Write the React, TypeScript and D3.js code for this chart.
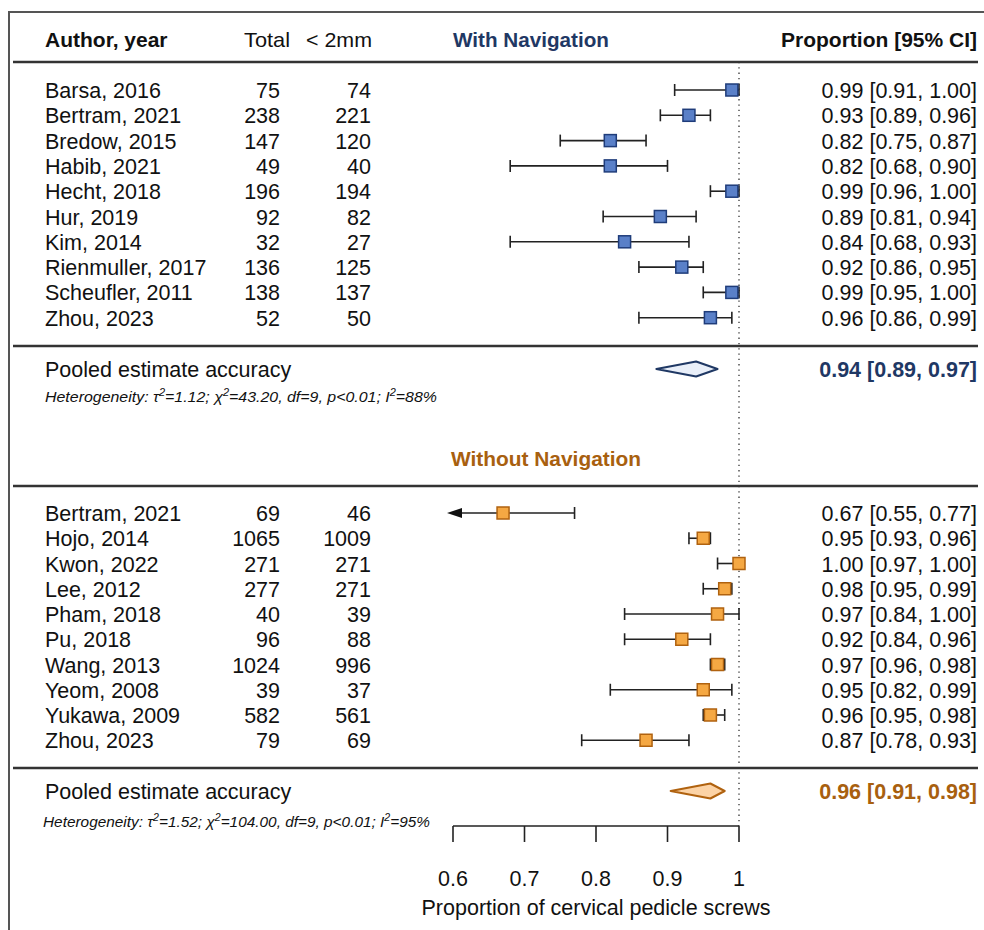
import { useEffect, useRef } from "react";
import * as d3 from "d3";

const navAuthors = ["Barsa, 2016", "Bertram, 2021", "Bredow, 2015", "Habib, 2021", "Hecht, 2018", "Hur, 2019", "Kim, 2014", "Rienmuller, 2017", "Scheufler, 2011", "Zhou, 2023"];
const navTotal = [75, 238, 147, 49, 196, 92, 32, 136, 138, 52];
const navHit = [74, 221, 120, 40, 194, 82, 27, 125, 137, 50];
const navProp = [0.99, 0.93, 0.82, 0.82, 0.99, 0.89, 0.84, 0.92, 0.99, 0.96];
const navLo = [0.91, 0.89, 0.75, 0.68, 0.96, 0.81, 0.68, 0.86, 0.95, 0.86];
const navHi = [1.0, 0.96, 0.87, 0.9, 1.0, 0.94, 0.93, 0.95, 1.0, 0.99];
const navPooled = [0.94, 0.89, 0.97];

const woAuthors = ["Bertram, 2021", "Hojo, 2014", "Kwon, 2022", "Lee, 2012", "Pham, 2018", "Pu, 2018", "Wang, 2013", "Yeom, 2008", "Yukawa, 2009", "Zhou, 2023"];
const woTotal = [69, 1065, 271, 277, 40, 96, 1024, 39, 582, 79];
const woHit = [46, 1009, 271, 271, 39, 88, 996, 37, 561, 69];
const woProp = [0.67, 0.95, 1.0, 0.98, 0.97, 0.92, 0.97, 0.95, 0.96, 0.87];
const woLo = [0.55, 0.93, 0.97, 0.95, 0.84, 0.84, 0.96, 0.82, 0.95, 0.78];
const woHi = [0.77, 0.96, 1.0, 0.99, 1.0, 0.96, 0.98, 0.99, 0.98, 0.93];
const woPooled = [0.96, 0.91, 0.98];

const axisTicks = [0.6, 0.7, 0.8, 0.9, 1];

const FONT = "'Liberation Sans', Arial, Helvetica, sans-serif";
const NAVY = "#1f3864";
const BROWN = "#a8600f";
const FS = 21.5;

export default function App() {
  const ref = useRef<SVGSVGElement | null>(null);

  useEffect(() => {
    document.body.style.margin = "0";
    const svg = d3.select(ref.current);
    svg.selectAll("*").remove();
    svg.attr("font-family", FONT);

    const x = d3.scaleLinear().domain([0.6, 1]).range([453, 739]);
    const fmt = d3.format(".2f");
    const ciText = (p: number, l: number, h: number) => `${fmt(p)} [${fmt(l)}, ${fmt(h)}]`;

    // frame
    svg.append("path").attr("d", "M9,930V12H984").attr("fill", "none").attr("stroke", "#555").attr("stroke-width", 2);

    const txt = (xx: number, yy: number, s: string, opts: any = {}) =>
      svg
        .append("text")
        .attr("x", xx)
        .attr("y", yy)
        .attr("font-size", opts.size ?? FS)
        .attr("font-weight", opts.bold ? "bold" : null)
        .attr("text-anchor", opts.anchor ?? "start")
        .attr("fill", opts.color ?? "#111")
        .text(s);

    // header
    const hy = 47;
    txt(45, hy, "Author, year", { bold: true, size: 21 });
    txt(290, hy, "Total", { anchor: "end", size: 21 }).attr("textLength", 46).attr("lengthAdjust", "spacingAndGlyphs");
    txt(372, hy, "< 2mm", { anchor: "end", size: 21 }).attr("textLength", 66).attr("lengthAdjust", "spacingAndGlyphs");
    txt(453, hy, "With Navigation", { bold: true, color: NAVY, size: 21 }).attr("textLength", 156).attr("lengthAdjust", "spacingAndGlyphs");
    txt(977, hy, "Proportion [95% CI]", { bold: true, anchor: "end", size: 21 });

    const hline = (yy: number) =>
      svg.append("line").attr("x1", 13).attr("x2", 978).attr("y1", yy).attr("y2", yy).attr("stroke", "#333").attr("stroke-width", 2.5);
    hline(62);
    hline(346);
    hline(486);
    hline(768);

    // reference line at 1
    svg
      .append("line")
      .attr("x1", x(1))
      .attr("x2", x(1))
      .attr("y1", 62)
      .attr("y2", 826)
      .attr("stroke", "#333")
      .attr("stroke-width", 1.3)
      .attr("stroke-dasharray", "1.3 4");

    const drawGroup = (
      y0: number,
      step: number,
      authors: string[],
      total: number[],
      hit: number[],
      prop: number[],
      lo: number[],
      hi: number[],
      fill: string,
      stroke: string
    ) => {
      authors.forEach((a, i) => {
        const cy = y0 + i * step;
        txt(45, cy + 8, a);
        txt(280, cy + 8, String(total[i]), { anchor: "end" });
        txt(371, cy + 8, String(hit[i]), { anchor: "end" });
        txt(977, cy + 8, ciText(prop[i], lo[i], hi[i]), { anchor: "end" });

        const clipped = lo[i] < 0.6;
        const xl = clipped ? x(0.6) - 6 : x(lo[i]);
        const xh = x(hi[i]);
        svg.append("line").attr("x1", clipped ? xl + 10 : xl).attr("x2", xh).attr("y1", cy).attr("y2", cy).attr("stroke", "#222").attr("stroke-width", 1.6);
        if (clipped) {
          svg.append("path").attr("d", `M${xl},${cy}l15,-5v10z`).attr("fill", "#111");
        } else {
          svg.append("line").attr("x1", xl).attr("x2", xl).attr("y1", cy - 6).attr("y2", cy + 6).attr("stroke", "#222").attr("stroke-width", 1.6);
        }
        svg.append("line").attr("x1", xh).attr("x2", xh).attr("y1", cy - 6).attr("y2", cy + 6).attr("stroke", "#222").attr("stroke-width", 1.6);
        svg
          .append("rect")
          .attr("x", x(prop[i]) - 6)
          .attr("y", cy - 6)
          .attr("width", 12)
          .attr("height", 12)
          .attr("fill", fill)
          .attr("stroke", stroke)
          .attr("stroke-width", 1.5);
      });
    };

    drawGroup(90, 25.3, navAuthors, navTotal, navHit, navProp, navLo, navHi, "#5a80c8", "#1f3c7a");
    drawGroup(513, 25.25, woAuthors, woTotal, woHit, woProp, woLo, woHi, "#f5a843", "#b0620f");

    const pooled = (cy: number, vals: number[], fill: string, stroke: string, color: string) => {
      txt(45, cy + 8, "Pooled estimate accuracy");
      const [p, l, h] = vals;
      svg
        .append("path")
        .attr("d", `M${x(l) - 4},${cy}L${x(p)},${cy - 7.5}L${x(h)},${cy}L${x(p)},${cy + 7.5}Z`)
        .attr("fill", fill)
        .attr("stroke", stroke)
        .attr("stroke-width", 2)
        .attr("stroke-linejoin", "round");
      txt(977, cy + 8, ciText(p, l, h), { bold: true, anchor: "end", color });
    };
    pooled(369, navPooled, "#e9eff9", NAVY, NAVY);
    pooled(791, woPooled, "#fcd3a6", "#b0620f", BROWN);

    const hetero = (xx: number, yy: number, width: number, tau: string, chi: string, i2: string) => {
      const t = svg
        .append("text")
        .attr("x", xx)
        .attr("y", yy)
        .attr("font-size", 14.5)
        .attr("font-style", "italic")
        .attr("fill", "#111")
        .attr("textLength", width)
        .attr("lengthAdjust", "spacingAndGlyphs");
      const sup = (s: string) => t.append("tspan").attr("font-size", 10).attr("dy", -6).text(s);
      const norm = (s: string) => t.append("tspan").attr("font-size", 14.5).attr("dy", 6).text(s);
      t.append("tspan").text("Heterogeneity: τ");
      sup("2");
      norm(`=${tau}; χ`);
      sup("2");
      norm(`=${chi}, df=9, p<0.01; I`);
      sup("2");
      norm(`=${i2}%`);
    };
    hetero(45, 402, 392, "1.12", "43.20", "88");
    hetero(43, 827, 387, "1.52", "104.00", "95");

    txt(546, 466, "Without Navigation", { bold: true, color: BROWN, anchor: "middle", size: 21 }).attr("textLength", 190).attr("lengthAdjust", "spacingAndGlyphs");

    // x axis
    const axisY = 826;
    svg.append("line").attr("x1", x(0.6)).attr("x2", x(1)).attr("y1", axisY).attr("y2", axisY).attr("stroke", "#222").attr("stroke-width", 1.6);
    axisTicks.forEach((t) => {
      svg.append("line").attr("x1", x(t)).attr("x2", x(t)).attr("y1", axisY).attr("y2", axisY + 16).attr("stroke", "#222").attr("stroke-width", 1.6);
      txt(x(t), 886, t === 1 ? "1" : d3.format(".1f")(t), { anchor: "middle" });
    });
    txt(596, 915, "Proportion of cervical pedicle screws", { anchor: "middle" });
  }, []);

  return <svg ref={ref} width={984} height={930} style={{ display: "block", background: "#fff" }} />;
}
